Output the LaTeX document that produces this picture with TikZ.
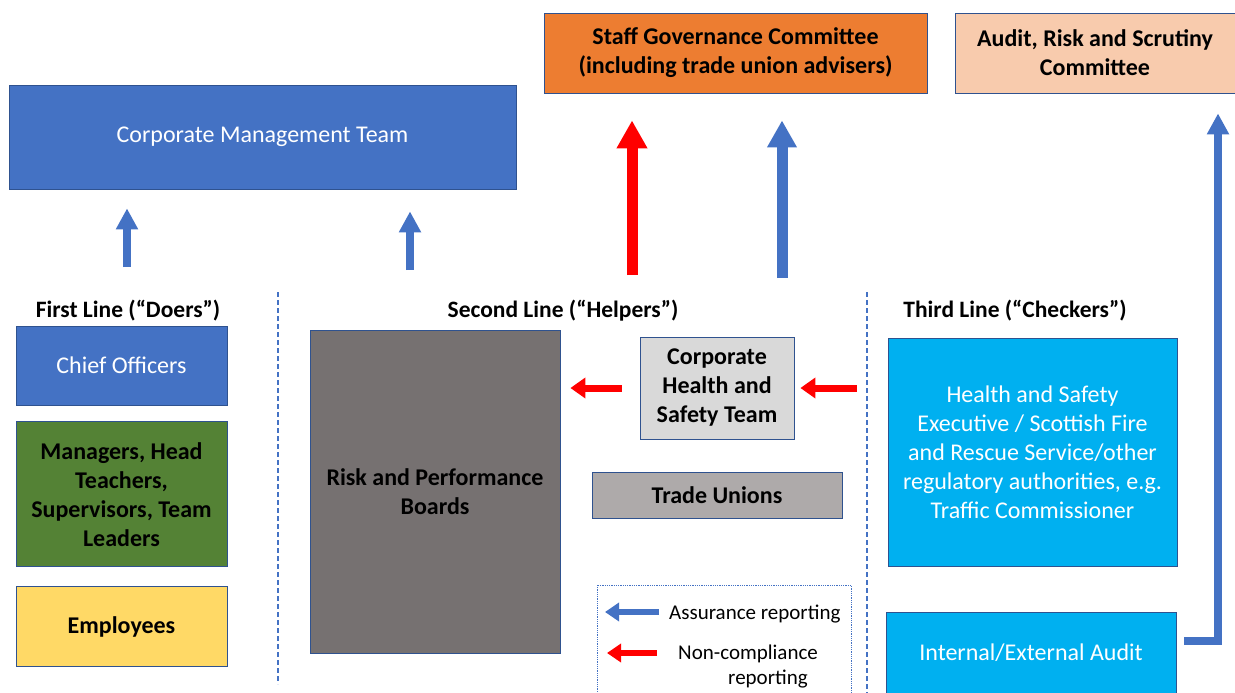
\documentclass[tikz,border=0pt]{standalone}
\usepackage{fontspec}
\setmainfont{Carlito}
\usetikzlibrary{arrows.meta,positioning}

\definecolor{cmtblue}{HTML}{4472C4}
\definecolor{boxedge}{HTML}{2F528F}
\definecolor{sgcorange}{HTML}{ED7D31}
\definecolor{arspeach}{HTML}{F8CBAD}
\definecolor{mgrgreen}{HTML}{548235}
\definecolor{empyellow}{HTML}{FFD966}
\definecolor{rpbgrey}{HTML}{767171}
\definecolor{chstgrey}{HTML}{D9D9D9}
\definecolor{tugrey}{HTML}{AEAAAA}
\definecolor{hsecyan}{HTML}{00B0F0}
\definecolor{ncred}{HTML}{FF0000}

\begin{document}
\begin{tikzpicture}[x=1pt, y=-1pt,
    box/.style={draw=boxedge, line width=0.8pt, align=center, inner sep=2pt,
        font=\fontsize{24}{29}\selectfont},
    boldbox/.style={box, font=\fontsize{24}{29}\selectfont\bfseries},
    heading/.style={font=\fontsize{23.5}{28}\selectfont\bfseries, inner sep=0pt},
    divider/.style={draw=cmtblue, line width=1.6pt, dash pattern=on 5pt off 3pt},
    assure/.style={draw=cmtblue, line width=8pt, -{Triangle[width=21pt,length=21pt]}},
    assurebig/.style={draw=cmtblue, line width=11pt, -{Triangle[width=28pt,length=27pt]}},
    noncomp/.style={draw=ncred, line width=7pt, -{Triangle[width=20pt,length=15pt]}},
    noncompbig/.style={draw=ncred, line width=11pt, -{Triangle[width=29pt,length=28pt]}},
    legendtext/.style={font=\fontsize{21}{25}\selectfont, align=left, inner sep=0pt}]

    \useasboundingbox (0,0) rectangle (1235,693);

    % governance level
    \node[box, fill=cmtblue, text=white, minimum width=507, minimum height=104] (cmt) at (262.5,137) {Corporate Management Team};
    \node[boldbox, fill=sgcorange, minimum width=383, minimum height=80] (sgc) at (735.5,53) {Staff Governance Committee\\(including trade union advisers)};
    \node[boldbox, fill=arspeach, minimum width=280, minimum height=80] (ars) at (1095,53) {Audit, Risk and Scrutiny\\Committee};

    % three lines
    \node[heading] (first) at (128,311) {First Line (“Doers”)};
    \node[heading] (second) at (563,311) {Second Line (“Helpers”)};
    \node[heading] (third) at (1015,311) {Third Line (“Checkers”)};

    \coordinate (d1top) at (278,292);
    \coordinate (d1bot) at (278,684);
    \coordinate (d2top) at (867,292);
    \coordinate (d2bot) at (867,693);
    \draw[divider] (d1top) -- (d1bot);
    \draw[divider] (d2top) -- (d2bot);

    % first line
    \node[box, fill=cmtblue, text=white, minimum width=211, minimum height=79] (chief) at (121.5,365.5) {Chief Officers};
    \node[boldbox, fill=mgrgreen, minimum width=211, minimum height=145, below=16pt of chief] (mgr) {Managers, Head\\Teachers,\\Supervisors, Team\\Leaders};
    \node[boldbox, fill=empyellow, minimum width=211, minimum height=80, below=19pt of mgr] (emp) {Employees};

    % second line
    \node[boldbox, fill=rpbgrey, minimum width=250, minimum height=323] (rpb) at (435,491.5) {Risk and Performance\\Boards};
    \node[boldbox, fill=chstgrey, minimum width=154, minimum height=102] (chst) at (717,388) {Corporate\\Health and\\Safety Team};
    \node[boldbox, fill=tugrey, minimum width=250, minimum height=46] (tu) at (717,495) {Trade Unions};

    % third line
    \node[box, fill=hsecyan, text=white, minimum width=289, minimum height=228] (hse) at (1032.5,452) {Health and Safety\\Executive / Scottish Fire\\and Rescue Service/other\\regulatory authorities, e.g.\\Traffic Commissioner};
    \node[box, fill=hsecyan, text=white, minimum width=290, minimum height=82] (audit) at (1031,653) {Internal/External Audit};

    % reporting arrows
    \coordinate (up1) at (127,267);
    \coordinate (up2) at (410,270);
    \coordinate (up3) at (632,275);
    \coordinate (up4) at (782,278);
    \coordinate (riser) at (1218,0);
    \draw[assure, shorten >=19] (up1) -- (up1 |- cmt.south);
    \draw[assure, shorten >=22] (up2) -- (up2 |- cmt.south);
    \draw[noncompbig, shorten >=27] (up3) -- (up3 |- sgc.south);
    \draw[assurebig, shorten >=27] (up4) -- (up4 |- sgc.south);
    \draw[noncomp, shorten <=18, shorten >=10] (chst.west) -- (rpb.east |- chst.west);
    \draw[noncomp, shorten <=31, shorten >=6] (hse.west |- chst.east) -- (chst.east);
    \draw[assure, shorten <=8, shorten >=20] ([yshift=12]audit.east) -| (riser |- ars.south);

    % legend
    \draw[draw=cmtblue, line width=0.8pt, densely dotted] (597,585) rectangle (851,700);
    \coordinate (lg1a) at (659,612);
    \coordinate (lg1b) at (605,612);
    \coordinate (lg2a) at (657,653);
    \coordinate (lg2b) at (607,653);
    \draw[draw=cmtblue, line width=6pt, -{Triangle[width=18pt,length=14pt]}] (lg1a) -- (lg1b);
    \draw[draw=ncred, line width=6pt, -{Triangle[width=18pt,length=14pt]}] (lg2a) -- (lg2b);
    \node[legendtext, anchor=west] (lgassure) at (669,614) {Assurance reporting};
    \node[legendtext, anchor=north west] (lgnoncomp) at (678,645) {Non-compliance\\\hspace*{50pt}reporting};

\end{tikzpicture}
\end{document}
